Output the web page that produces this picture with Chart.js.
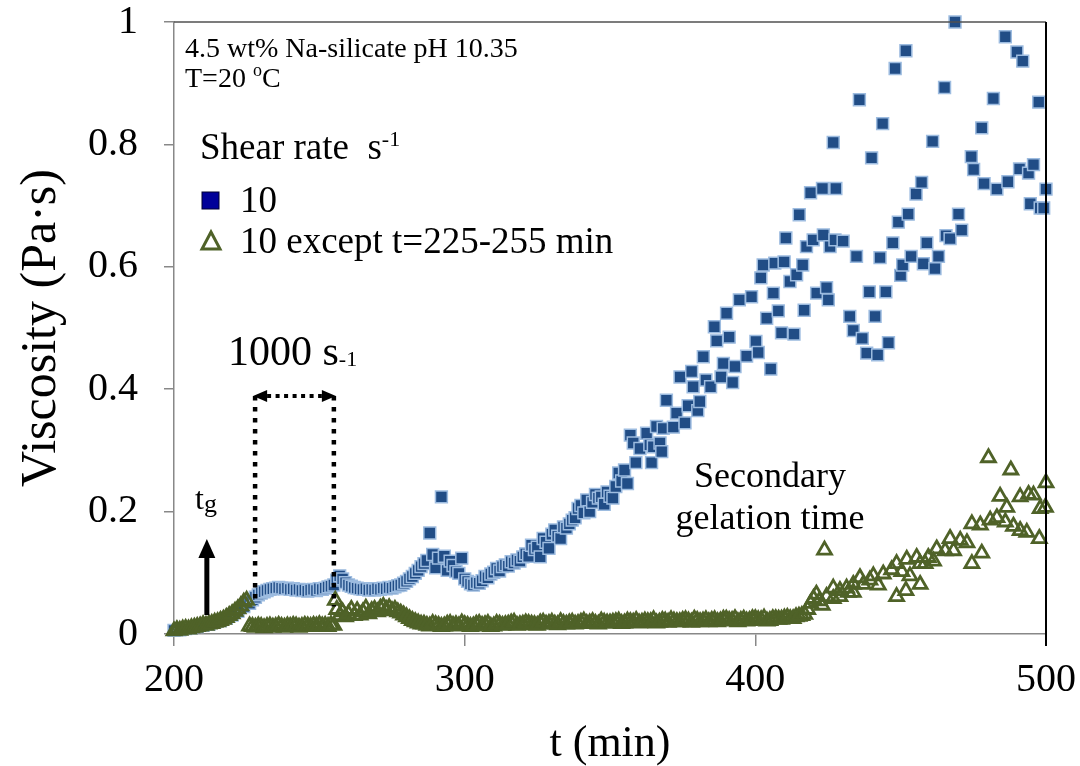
<!DOCTYPE html>
<html>
<head>
<meta charset="utf-8">
<script src="https://cdn.jsdelivr.net/npm/chart.js@4/dist/chart.umd.min.js"></script>
<style>
  html, body { margin: 0; padding: 0; background: #fff; }
</style>
</head>
<body>
<canvas id="viscChart" width="1080" height="766"></canvas>
<script>
// tick labels
const timeTicks = [200, 300, 400, 500];
const viscTicks = [0, 0.2, 0.4, 0.6, 0.8, 1];

// series 1: shear rate 10 s-1 all the time (squares)
const blueTime = [
  200, 202, 204, 206, 208, 210, 212, 214, 216, 218,
  220, 222, 224, 226, 227, 228, 229, 230, 231, 232,
  233, 234, 235, 236, 237, 238, 239, 240, 241, 242,
  243, 244, 245, 246, 247, 248, 249, 250, 251, 252,
  253, 254, 255, 256, 257, 258, 259, 260, 261, 262,
  263, 264, 265, 266, 267, 268, 269, 270, 271, 272,
  273, 274, 275, 276, 277, 278, 279, 280, 281, 282,
  283, 284, 285, 286, 287, 288, 289, 290, 291, 292,
  293, 294, 295, 296, 297, 298, 299, 300, 301, 302,
  303, 304, 305, 306, 307, 308, 309, 310, 311, 312,
  313, 314, 315, 316, 317, 318, 319, 320, 321, 322,
  323, 324, 325, 326, 327, 328, 329, 330, 331, 332,
  333, 334, 335, 336, 337, 338, 339, 340, 341, 342,
  343, 344, 345, 346, 347, 348, 349, 350, 351, 352,
  353, 354, 355, 356, 357.0, 358.0, 358.9, 360.3, 362.6, 363.7,
  364.3, 364.9, 366.0, 367.2, 367.8, 368.3, 369.4, 371.8, 372.9, 374.1,
  375.8, 376.9, 378.1, 378.6, 380.2, 380.9, 382.1, 383.0, 384.6, 385.9,
  386.7, 388.2, 389.0, 390.1, 391.0, 392.2, 393.0, 394.5, 397.0, 398.7,
  400.2, 401.0, 401.9, 402.7, 403.9, 405.3, 406.2, 406.7, 407.9, 409.0,
  409.9, 410.5, 411.9, 413.3, 414.2, 415.1, 416.3, 416.8, 417.6, 419.0,
  419.9, 421.1, 423.1, 423.4, 424.5, 425.1, 425.7, 426.8, 427.4, 427.7,
  430.2, 432.5, 433.7, 434.8, 435.8, 436.8, 438.3, 439.2, 440.0, 441.2,
  442.1, 442.9, 443.8, 444.9, 445.8, 447.3, 448.1, 449.2, 450.0, 450.7,
  451.8, 452.6, 453.6, 455.3, 457.2, 457.8, 459.0, 461.0, 461.8, 463.0,
  465.1, 465.6, 467.0, 468.7, 469.9, 471.0, 474.3, 475.1, 477.9, 478.7,
  481.9, 483.1, 486.0, 486.9, 490.0, 490.9, 492.0, 494.0, 494.6, 495.7,
  497.5, 498.0, 499.2, 500.0
];
const blueVisc = [
  .006, .007, .009, .010, .012, .014, .016, .019, .022, .026,
  .031, .037, .045, .050, .056, .060, .064, .067, .069, .071,
  .073, .074, .075, .076, .075, .074, .075, .073, .074, .072,
  .073, .071, .072, .070, .072, .073, .071, .074, .073, .075,
  .077, .078, .080, .088, .095, .090, .084, .080, .078, .076,
  .075, .074, .073, .074, .072, .073, .072, .074, .073, .075,
  .074, .076, .075, .077, .079, .080, .083, .086, .090, .094,
  .099, .104, .110, .115, .120, .165, .130, .108, .124, .224,
  .127, .104, .119, .112, .102, .099, .124, .090, .086, .082,
  .080, .084, .083, .087, .094, .092, .098, .101, .107, .103,
  .110, .113, .111, .118, .116, .121, .119, .126, .131, .127,
  .145, .138, .142, .126, .156, .150, .140, .163, .170, .160,
  .156, .175, .173, .180, .186, .190, .205, .210, .198, .219,
  .200, .215, .228, .222, .224, .212, .232, .225, .222, .241,
  .263, .250, .268, .246, .325, .312, .280, .303, .328, .309,
  .280, .306, .339, .312, .298, .336, .382, .338, .361, .420,
  .345, .373, .429, .404, .365, .380, .453, .415, .404, .502,
  .479, .420, .442, .524, .485, .411, .437, .546, .454, .551,
  .478, .460, .582, .603, .516, .433, .557, .606, .528, .492,
  .608, .647, .576, .490, .587, .685, .603, .529, .633, .721,
  .644, .557, .728, .652, .566, .546, .633, .803, .644, .728,
  .642, .519, .496, .617, .873, .483, .459, .559, .778, .519,
  .456, .615, .834, .559, .476, .639, .924, .673, .586, .603,
  .953, .686, .617, .719, .738, .605, .639, .805, .597, .617,
  .893, .651, .646, 1.0, .686, .660, .780, .759, .827, .736,
  .875, .727, .976, .739, .951, .760, .936, .753, .703, .767,
  .869, .696, .696, .727
];

// series 2: 10 s-1 except 1000 s-1 for t=225-255 min (triangles)
const greenTime = [
  200, 201, 202, 203, 204, 205, 206, 207, 208, 209,
  210, 211, 212, 213, 214, 215, 216, 217, 218, 219,
  220, 221, 222, 223, 224, 225, 226, 227, 228, 229,
  230, 231, 232, 233, 234, 235, 236, 237, 238, 239,
  240, 241, 242, 243, 244, 245, 246, 247, 248, 249,
  250, 251, 252, 253, 254, 255, 255.5, 256, 257, 258,
  259, 260, 261, 262, 263, 264, 265, 266, 267, 268,
  269, 270, 271, 272, 273, 274, 275, 276, 277, 278,
  279, 280, 281, 282, 283, 284, 285, 286, 288, 290,
  292, 294, 296, 298, 300, 302, 304, 306, 308, 310,
  312, 314, 316, 318, 320, 322, 324, 326, 328, 330,
  332, 334, 336, 338, 340, 342, 344, 346, 348, 350,
  352, 354, 356, 358, 360, 362, 364, 366, 368, 370,
  372, 374, 376, 378, 380, 382, 384, 386, 388, 390,
  392, 394, 396, 398, 400, 402, 404, 406, 408, 410,
  412, 414, 416, 417, 418, 419, 420, 421, 422, 423,
  423.8, 424.5, 426.8, 426.8, 429.1, 429.1, 431.4, 432.0, 433.7, 433.7,
  436.0, 437.1, 439.4, 440.6, 442.3, 444.0, 446.9, 448.6, 448.6, 450.4,
  451.8, 452.1, 453.2, 455.5, 456.7, 456.7, 458.4, 459.5, 461.3, 462.4,
  465.3, 467.0, 468.2, 470.5, 472.8, 474.5, 474.5, 477.4, 477.9, 480.2,
  480.8, 483.1, 484.2, 486.0, 486.5, 487.9, 488.8, 491.1, 491.1, 493.4,
  494.0, 495.7, 497.7, 498.0, 499.8, 500.0,
  287, 289, 291, 293, 295, 297, 299, 301, 303, 305,
  307, 309, 311, 313, 315, 317, 319, 321, 323, 325,
  327, 329, 331, 333, 335, 337, 339, 341, 343, 345,
  347, 349, 351, 353, 355, 357, 359, 361, 363, 365,
  367, 369, 371, 373, 375, 377, 379, 381, 383, 385,
  387, 389, 391, 393, 395, 397, 399, 401, 403, 405,
  407, 409, 411, 413, 415
];
const greenVisc = [
  .005, .007, .006, .008, .009, .008, .010, .011, .012, .013,
  .015, .014, .016, .017, .019, .020, .022, .024, .027, .030,
  .033, .037, .041, .046, .052, .055, .013, .012, .011, .013,
  .012, .010, .012, .013, .011, .012, .014, .012, .011, .013,
  .012, .014, .013, .011, .012, .014, .013, .012, .014, .013,
  .015, .013, .014, .012, .015, .014, .055, .040, .030, .036,
  .028, .033, .040, .030, .038, .031, .036, .042, .033, .038,
  .040, .036, .042, .045, .040, .043, .038, .040, .036, .034,
  .031, .028, .025, .022, .020, .018, .016, .016, .013, .015,
  .012, .016, .014, .013, .015, .012, .016, .014, .017, .013,
  .016, .015, .018, .014, .016, .017, .015, .018, .016, .019,
  .015, .017, .018, .016, .019, .017, .020, .016, .019, .018,
  .020, .017, .021, .019, .018, .021, .020, .018, .022, .019,
  .021, .020, .023, .019, .022, .021, .020, .023, .021, .024,
  .022, .020, .024, .022, .025, .023, .021, .025, .024, .026,
  .025, .028, .030, .032, .040, .050, .058, .065, .054, .047,
  .137, .061, .075, .058, .071, .061, .075, .068, .081, .068,
  .092, .081, .088, .095, .080, .098, .105, .115, .061, .102,
  .071, .122, .095, .125, .115, .081, .115, .125, .119, .139,
  .136, .156, .136, .153, .149, .180, .115, .178, .132, .288,
  .186, .190, .225, .183, .207, .268, .176, .224, .169, .166,
  .228, .227, .156, .205, .207, .247,
  .014, .017, .014, .013, .017, .015, .018, .014, .013, .017,
  .015, .012, .017, .014, .016, .019, .015, .018, .016, .014,
  .019, .017, .016, .020, .016, .019, .017, .021, .018, .017,
  .021, .018, .019, .021, .018, .020, .022, .019, .020, .023,
  .019, .021, .023, .020, .022, .021, .024, .020, .023, .022,
  .020, .024, .022, .025, .022, .021, .025, .023, .026, .022,
  .025, .024, .027, .025, .029
];

const SERIF = "'Liberation Serif', 'Times New Roman', serif";
const BLUE = '#214D86';
const BLUE_EDGE = '#9DBCE0';
const GREEN = '#4F6228';

// draw a row of text pieces, each with own size and vertical shift
function drawRuns(ctx, x, y, runs) {
  ctx.textAlign = 'left';
  ctx.textBaseline = 'alphabetic';
  runs.forEach(r => {
    ctx.font = r.size + 'px ' + SERIF;
    ctx.fillText(r.text, x, y + (r.dy || 0));
    x += ctx.measureText(r.text).width;
  });
}

function dottedLine(ctx, x1, y1, x2, y2, dash) {
  ctx.setLineDash(dash);
  ctx.beginPath();
  ctx.moveTo(x1, y1);
  ctx.lineTo(x2, y2);
  ctx.stroke();
  ctx.setLineDash([]);
}

const notes = {
  id: 'notes',
  afterDraw(chart) {
    const {ctx, chartArea: a, scales: {x, y}} = chart;
    ctx.save();

    // frame: top and right edge
    ctx.strokeStyle = '#505050';
    ctx.lineWidth = 1.5;
    ctx.beginPath();
    ctx.moveTo(a.left, a.top);
    ctx.lineTo(a.right, a.top);
    ctx.stroke();
    ctx.strokeStyle = '#000';
    ctx.lineWidth = 2;
    ctx.beginPath();
    ctx.moveTo(a.right, a.top);
    ctx.lineTo(a.right, a.bottom + 12);
    ctx.stroke();

    ctx.fillStyle = '#000';
    drawRuns(ctx, 185, 57, [{text: '4.5 wt% Na-silicate pH 10.35', size: 28}]);
    drawRuns(ctx, 185, 87, [
      {text: 'T=20 ', size: 28},
      {text: 'o', size: 18, dy: -11},
      {text: 'C', size: 28}
    ]);

    // legend
    drawRuns(ctx, 200, 159, [
      {text: 'Shear rate  s', size: 37},
      {text: '-1', size: 22, dy: -13}
    ]);
    ctx.fillStyle = '#000099';
    ctx.fillRect(202, 192, 17, 17);
    ctx.strokeStyle = '#000033';
    ctx.lineWidth = 1;
    ctx.strokeRect(202, 192, 17, 17);
    ctx.fillStyle = '#000';
    drawRuns(ctx, 240, 212, [{text: '10', size: 37}]);
    ctx.strokeStyle = GREEN;
    ctx.lineWidth = 3;
    ctx.beginPath();
    ctx.moveTo(211, 232);
    ctx.lineTo(220, 249);
    ctx.lineTo(202, 249);
    ctx.closePath();
    ctx.stroke();
    drawRuns(ctx, 240, 253, [{text: '10 except t=225-255 min', size: 37}]);

    // 1000 s-1 window
    drawRuns(ctx, 228, 365, [
      {text: '1000 s', size: 42},
      {text: '-1', size: 22, dy: 1}
    ]);
    const xl = x.getPixelForValue(227.9);
    const xr = x.getPixelForValue(255);
    const yt = y.getPixelForValue(0.389);
    ctx.strokeStyle = '#000';
    ctx.lineWidth = 4.5;
    dottedLine(ctx, xl, yt, xl, y.getPixelForValue(0.05), [4.5, 6.5]);
    dottedLine(ctx, xr, yt, xr, y.getPixelForValue(0.045), [4.5, 6.5]);
    ctx.lineWidth = 4;
    dottedLine(ctx, xl + 12, yt, xr - 12, yt, [4, 4.5]);
    ctx.fillStyle = '#000';
    ctx.beginPath();
    ctx.moveTo(xl - 2, yt);
    ctx.lineTo(xl + 12, yt - 6);
    ctx.lineTo(xl + 12, yt + 6);
    ctx.closePath();
    ctx.fill();
    ctx.beginPath();
    ctx.moveTo(xr + 2, yt);
    ctx.lineTo(xr - 12, yt - 6);
    ctx.lineTo(xr - 12, yt + 6);
    ctx.closePath();
    ctx.fill();

    // gel time arrow
    drawRuns(ctx, 195, 509, [
      {text: 't', size: 32},
      {text: 'g', size: 26, dy: 3}
    ]);
    const xa = x.getPixelForValue(211.3);
    ctx.lineWidth = 5;
    ctx.beginPath();
    ctx.moveTo(xa, 615);
    ctx.lineTo(xa, 555);
    ctx.stroke();
    ctx.beginPath();
    ctx.moveTo(xa, 539);
    ctx.lineTo(xa + 8.5, 558);
    ctx.lineTo(xa - 8.5, 558);
    ctx.closePath();
    ctx.fill();

    // secondary gelation note
    ctx.textAlign = 'center';
    ctx.font = '36px ' + SERIF;
    ctx.fillText('Secondary', 770, 487);
    ctx.fillText('gelation time', 770, 529);

    ctx.restore();
  }
};

const CHART = document.getElementById('viscChart');

new Chart(CHART, {
  type: 'scatter',
  data: {
    datasets: [
      {
        label: '10 except t=225-255 min',
        data: greenTime.map((t, i) => ({x: t, y: greenVisc[i]})),
        pointStyle: 'triangle',
        pointRadius: 8,
        pointBorderWidth: 2.8,
        borderColor: GREEN,
        backgroundColor: 'rgba(255,255,255,0)',
        clip: false
      },
      {
        label: '10',
        data: blueTime.map((t, i) => ({x: t, y: blueVisc[i]})),
        pointStyle: 'rect',
        pointRadius: 8.4,
        pointBorderWidth: 1.5,
        borderColor: BLUE_EDGE,
        backgroundColor: BLUE,
        clip: false
      }
    ]
  },
  options: {
    responsive: false,
    animation: false,
    layout: { padding: { top: 22, right: 34, left: 0, bottom: 0 } },
    plugins: {
      legend: { display: false },
      tooltip: { enabled: false }
    },
    scales: {
      x: {
        type: 'linear',
        min: 200,
        max: 500,
        afterBuildTicks: s => { s.ticks = timeTicks.map(v => ({value: v})); },
        afterFit: s => { s.height = 132; s.paddingLeft = 0; s.paddingRight = 0; },
        grid: { drawOnChartArea: false, drawTicks: true, tickLength: 12, color: '#888', lineWidth: 1.5 },
        border: { color: '#888', width: 1.5 },
        ticks: {
          font: { family: SERIF, size: 40, lineHeight: 1 },
          color: '#000',
          padding: 14,
          maxRotation: 0,
          callback: v => String(v)
        },
        title: {
          display: true,
          text: 't (min)',
          font: { family: SERIF, size: 44, lineHeight: 1 },
          color: '#000',
          padding: { top: 0, bottom: 0 }
        }
      },
      y: {
        min: 0,
        max: 1,
        afterBuildTicks: s => { s.ticks = viscTicks.map(v => ({value: v})); },
        afterFit: s => { s.width = 174; s.paddingTop = 0; s.paddingBottom = 0; },
        grid: { drawOnChartArea: false, drawTicks: true, tickLength: 10, color: '#888', lineWidth: 1.5 },
        border: { color: '#888', width: 1.5 },
        ticks: {
          font: { family: SERIF, size: 40, lineHeight: 1 },
          color: '#000',
          padding: 26,
          callback: v => String(v)
        },
        title: {
          display: true,
          text: 'Viscosity (Pa\u00b7s)',
          font: { family: SERIF, size: 50, lineHeight: 1 },
          color: '#000',
          padding: { top: 17, bottom: 0 }
        }
      }
    }
  },
  plugins: [notes]
});
</script>
</body>
</html>
